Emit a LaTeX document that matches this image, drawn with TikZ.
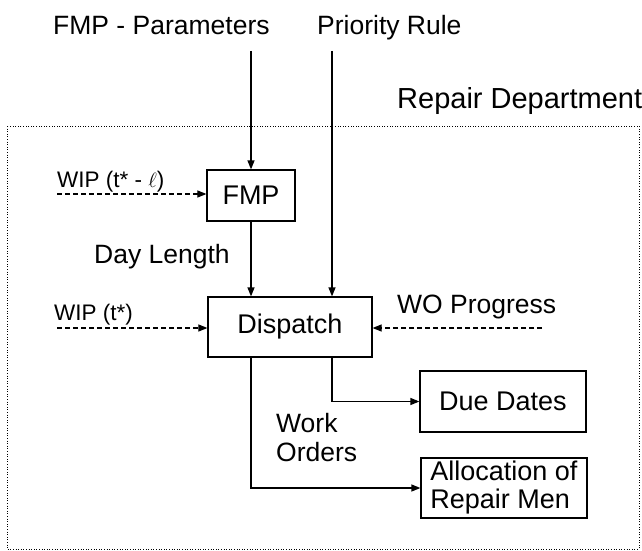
\documentclass[tikz,border=0pt]{standalone}
\usepackage{fontspec}
\setmainfont{Liberation Sans}
\usetikzlibrary{arrows.meta}
\tikzset{
	box/.style={draw, line width=1.2pt, inner sep=0pt, align=left, font=\fontsize{27}{28}\selectfont},
	flow/.style={line width=1.2pt, -{Triangle[length=9pt,width=7pt]}},
	dashin/.style={line width=1.1pt, dash pattern=on 5pt off 3pt, -{Triangle[length=9pt,width=7pt]}},
	frame/.style={line width=0.8pt, dash pattern=on 1pt off 1.6pt},
	lbl/.style={anchor=base west, inner sep=0pt, font=\fontsize{26.5}{29}\selectfont},
	smalllbl/.style={anchor=base west, inner sep=0pt, font=\fontsize{22.5}{26}\selectfont}
}
\begin{document}
\begin{tikzpicture}[x=1pt, y=-1pt]
		\useasboundingbox (0,0) rectangle (642,551);
		\draw[frame] (7,126) rectangle (639,549);
		\node[lbl] (fmppar) at (53,35) {FMP - Parameters};
		\node[lbl] (prule) at (317,35) {Priority Rule};
		\node[lbl, font=\fontsize{29}{32}\selectfont] (dept) at (397,108) {Repair Department};
		\node[box, minimum width=88pt, minimum height=51pt] (fmp) at (251,195.5) {FMP};
		\node[box, minimum width=164pt, minimum height=60pt] (disp) at (290,327) {Dispatch};
		\node[box, minimum width=166pt, minimum height=61pt] (due) at (503,401.5) {Due Dates};
		\node[box, minimum width=166pt, minimum height=60pt] (alloc) at (504,488) {Allocation of\\Repair Men};
		\coordinate (fmpin) at (251,51);
		\coordinate (prio) at (332,51);
		\coordinate (wipa) at (57,194);
		\coordinate (wipb) at (57,328);
		\coordinate (wop) at (542,328);
		\draw[flow] (fmpin) -- (fmp.north);
		\draw[flow] (fmp.south) -- (disp.north -| fmp.south);
		\draw[flow] (prio) -- (disp.north -| prio);
		\draw[dashin] (wipa) -- (wipa -| fmp.west);
		\draw[dashin] (wipb) -- (wipb -| disp.west);
		\draw[dashin] (wop) -- (wop -| disp.east);
		\draw[flow] (disp.south -| prio) |- (due.west);
		\draw[flow] (disp.south -| fmp.south) |- (alloc.west);
		\node[smalllbl] (wip1) at (57,187) {WIP (t* - $\ell$)};
		\node[lbl] (daylen) at (94,263) {Day Length};
		\node[smalllbl] (wip2) at (54,320) {WIP (t*)};
		\node[lbl] (woprog) at (397,313) {WO Progress};
		\node[lbl, align=left] (wo) at (276,461) {Work\\Orders};
	\end{tikzpicture}
\end{document}
